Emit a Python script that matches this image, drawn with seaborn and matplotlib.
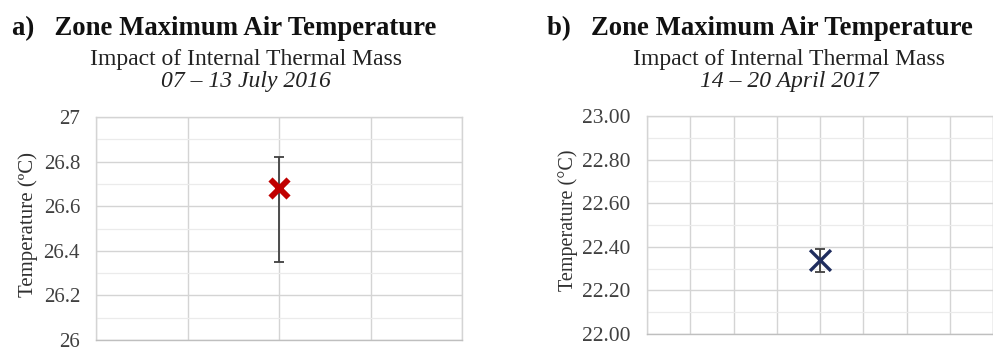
import matplotlib
matplotlib.use("Agg")
import matplotlib.pyplot as plt
import seaborn as sns
import pandas as pd
from matplotlib.ticker import MultipleLocator, FormatStrFormatter, FuncFormatter

# ---- data ----
titles = ["a)   Zone Maximum Air Temperature", "b)   Zone Maximum Air Temperature"]
subtitle = "Impact of Internal Thermal Mass"
periods = ["07 \u2013 13 July 2016", "14 \u2013 20 April 2017"]
ylabels = ["Temperature (\u00baC)", "Temperature (\u00b0C)"]
case_x = [2, 4]                 # category slot of the single point
mean_temp = [26.68, 22.34]
err_low = [26.35, 22.285]
err_high = [26.82, 22.39]
ylims = [(26.0, 27.0), (22.0, 23.0)]
xslots = [4, 8]

sns.set_theme(style="white")
plt.rcParams["font.family"] = ["Liberation Serif", "DejaVu Serif"]

fig = plt.figure(figsize=(9.93, 3.52), dpi=100)
axA = fig.add_axes([96/993, 12/352, 366/993, 223/352])
axB = fig.add_axes([647/993, 18/352, 346/993, 218/352])

styles = [dict(color="#c00000", marker="x", ms=13, mew=4.2),
          dict(color="#1f2d5e", marker="x", ms=15, mew=2.4)]
fmts = [FuncFormatter(lambda v, p: f"{v:g}"), FormatStrFormatter("%.2f")]
tick_sizes = [15, 15.5]
tick_pads = [11.5, 12]
label_sizes = [15, 14.5]
label_x = [28, 568]

for i, ax in enumerate([axA, axB]):
    df = pd.DataFrame({"x": [case_x[i]], "T": [mean_temp[i]],
                       "lo": [err_low[i]], "hi": [err_high[i]]})
    ax.set_xlim(0, xslots[i])
    ax.set_ylim(*ylims[i])
    ax.xaxis.set_major_locator(MultipleLocator(1))
    ax.yaxis.set_major_locator(MultipleLocator(0.2))
    ax.yaxis.set_minor_locator(MultipleLocator(0.1))
    ax.grid(True, which="major", axis="both", color="#d4d4d4", lw=1.0)
    ax.grid(True, which="minor", axis="y", color="#ebebeb", lw=0.9)
    ax.set_axisbelow(True)
    for s in ax.spines.values():
        s.set_color("#d4d4d4")
        s.set_linewidth(1.0)
    ax.spines["bottom"].set_color("#bfbfbf")
    ax.tick_params(axis="x", labelbottom=False, length=0)
    ax.tick_params(axis="y", length=0, labelsize=tick_sizes[i], colors="#404040", pad=tick_pads[i])
    ax.yaxis.set_major_formatter(fmts[i])
    ax.errorbar(df["x"], df["T"],
                yerr=[df["T"] - df["lo"], df["hi"] - df["T"]],
                fmt="none", ecolor="#404040", elinewidth=1.3, capsize=3.5, capthick=1.3, zorder=3)
    st = styles[i]
    sns.scatterplot(data=df, x="x", y="T", ax=ax, marker=st["marker"], s=st["ms"]**2,
                    color=st["color"], linewidth=st["mew"], zorder=4, legend=False)
    ax.set_xlabel("")
    ax.set_ylabel("")
    pos = ax.get_position()
    fig.text(label_x[i]/993, pos.y0 + pos.height*0.52, ylabels[i], rotation=90,
             fontsize=label_sizes[i], color="#303030", ha="center", va="center")

# titles
fig.text(12/993, 1 - 35/352, titles[0], fontsize=19.3, fontweight="bold", va="baseline", ha="left", color="#111111")
fig.text(547/993, 1 - 35/352, titles[1], fontsize=19.3, fontweight="bold", va="baseline", ha="left", color="#111111")
for cx, per in zip([246, 789], periods):
    fig.text(cx/993, 1 - 65/352, subtitle, fontsize=17, va="baseline", ha="center", color="#222222")
    fig.text(cx/993, 1 - 87/352, per, fontsize=17, style="italic", va="baseline", ha="center", color="#222222")

fig.savefig("out.png", dpi=100)
